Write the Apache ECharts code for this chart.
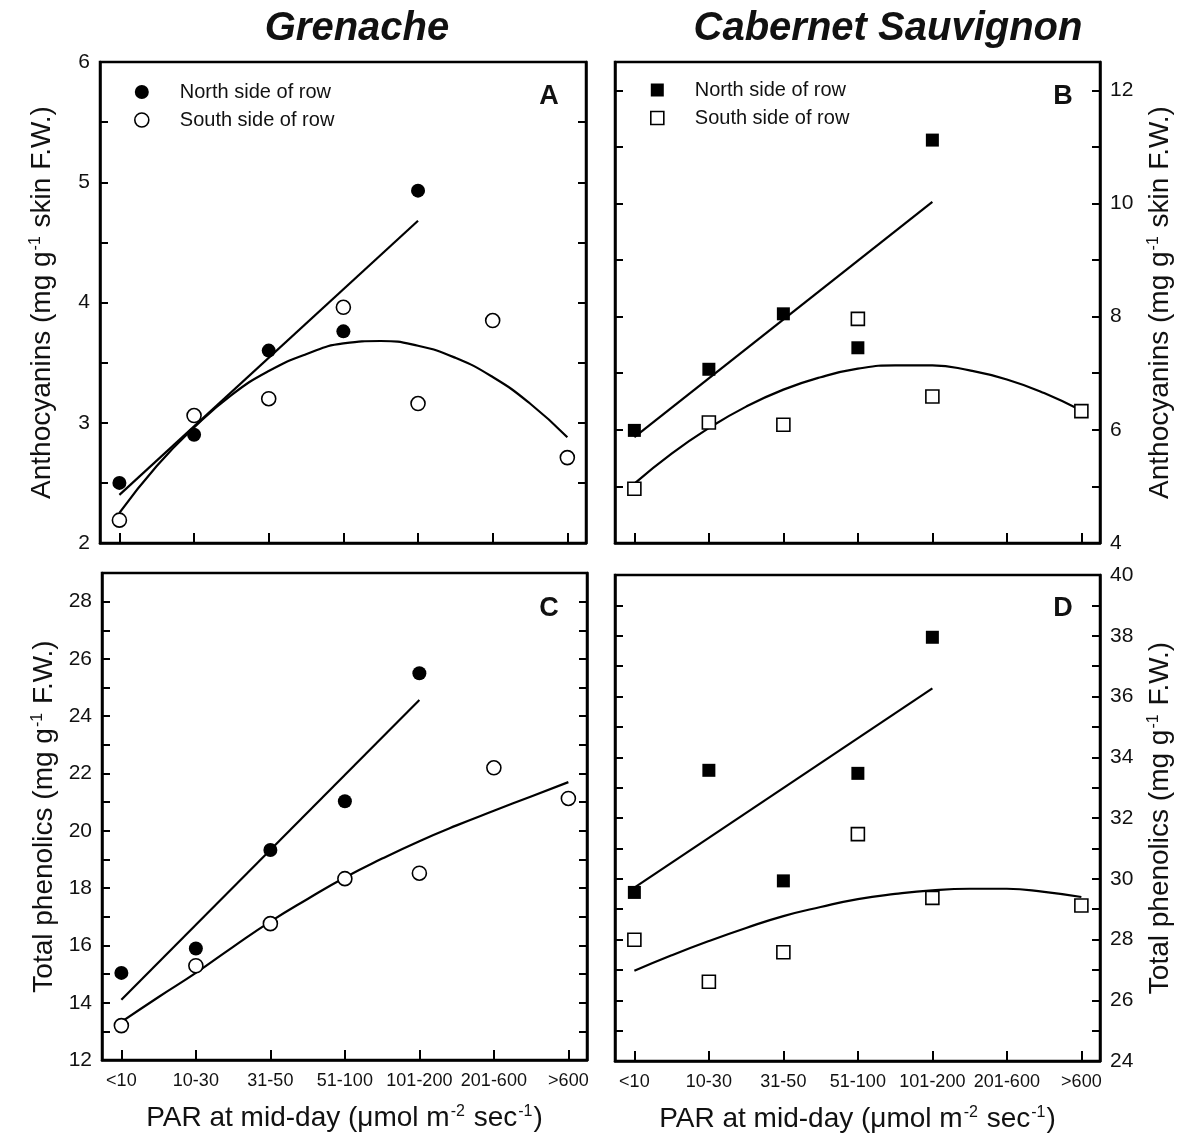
<!DOCTYPE html>
<html>
<head>
<meta charset="utf-8">
<script src="https://cdn.jsdelivr.net/npm/echarts@6/dist/echarts.min.js"></script>
<style>
  html, body { margin: 0; padding: 0; background: #fff; }
  #chart { width: 1203px; height: 1145px; }
</style>
</head>
<body>
<div id="chart"></div>
<script>
// PAR classes on the x axis
var cats = ['<10', '10-30', '31-50', '51-100', '101-200', '201-600', '>600'];
var curveX = [0, 0.5, 1, 1.5, 2, 2.5, 3, 3.5, 4, 4.5, 5, 5.5, 6];
var lineX = [0, 4];

// A - Grenache anthocyanins
var aNorth = [2.50, 2.90, 3.60, 3.76, 4.93, null, null];
var aSouth = [2.19, 3.06, 3.20, 3.96, 3.16, 3.85, 2.71];
var aNorthFit = [2.40, 4.68];
var aSouthFit = [2.25, 2.64, 2.96, 3.23, 3.43, 3.57, 3.66, 3.68, 3.64, 3.54, 3.38, 3.16, 2.88];

// B - Cabernet Sauvignon anthocyanins
var bNorth = [5.99, 7.07, 8.05, 7.45, 11.12, null, null];
var bSouth = [4.96, 6.13, 6.09, 7.96, 6.59, null, 6.33];
var bNorthFit = [5.87, 10.03];
var bSouthFit = [5.05, 5.58, 6.03, 6.41, 6.71, 6.93, 7.08, 7.14, 7.14, 7.05, 6.89, 6.65, 6.34];

// C - Grenache total phenolics
var cNorth = [15.04, 15.89, 19.33, 21.03, 25.50, null, null];
var cSouth = [13.20, 15.29, 16.76, 18.33, 18.52, 22.20, 21.13];
var cNorthFit = [14.10, 24.57];
var cSouthFit = [13.33, 14.20, 15.04, 15.95, 16.83, 17.62, 18.37, 19.03, 19.64, 20.19, 20.70, 21.20, 21.70];

// D - Cabernet Sauvignon total phenolics
var dNorth = [29.55, 33.57, 29.93, 33.47, 37.95, null, null];
var dSouth = [27.99, 26.61, 27.58, 31.47, 29.37, null, 29.12];
var dNorthFit = [29.71, 36.27];
var dSouthFit = [26.97, 27.48, 27.95, 28.38, 28.77, 29.07, 29.33, 29.50, 29.62, 29.67, 29.67, 29.57, 29.40];

var FONT = '"Liberation Sans", Arial, Helvetica, sans-serif';
var INK = '#111';
var catIdx = cats.map(function (c, i) { return i; });

function pts(vals, xs) {
    return vals.map(function (v, i) { return v == null ? null : [xs ? xs[i] : i, v]; })
               .filter(function (p) { return p; });
}

var supRich = {
    sup: { fontSize: 16, fontFamily: FONT, color: INK, verticalAlign: 'top', padding: [0, 1, 0, 1] }
};

function xAxis(grid, withLabels) {
    return {
        type: 'value', gridIndex: grid, min: -0.26, max: 6.25,
        splitLine: { show: false },
        axisLine: { show: true, lineStyle: { color: '#000', width: 2.5 } },
        axisTick: { show: true, inside: true, length: 10, customValues: catIdx, lineStyle: { color: '#000', width: 2 } },
        axisLabel: {
            show: withLabels, customValues: catIdx, margin: 12,
            fontSize: 18, fontFamily: FONT, color: INK,
            formatter: function (v) { return cats[Math.round(v)]; }
        },
        name: withLabels ? 'PAR at mid-day (μmol m{sup|-2} sec{sup|-1})' : '',
        nameLocation: 'middle', nameGap: 44,
        nameTextStyle: { fontSize: 28, fontFamily: FONT, color: INK, rich: supRich }
    };
}

function yAxis(grid, pos, min, max, step, labelEvery, name, nameGap) {
    var labelled = !!name;
    return {
        type: 'value', gridIndex: grid, position: pos, min: min, max: max, interval: step,
        splitLine: { show: false },
        axisLine: { show: true, onZero: false, lineStyle: { color: '#000', width: 2.5 } },
        axisTick: { show: true, inside: true, length: 8, lineStyle: { color: '#000', width: 2 } },
        axisLabel: {
            show: labelled, margin: 10, fontSize: 21, fontFamily: FONT, color: INK,
            formatter: function (v) {
                var r = Math.round(v / labelEvery) * labelEvery;
                return Math.abs(r - v) < 1e-6 ? String(r) : '';
            }
        },
        name: name || '', nameLocation: 'middle', nameRotate: 90, nameGap: nameGap || 0,
        nameTextStyle: { fontSize: 28, fontFamily: FONT, color: INK, rich: supRich }
    };
}

function scatter(name, vals, xi, yi, symbol, filled) {
    return {
        name: name, type: 'scatter', xAxisIndex: xi, yAxisIndex: yi, z: 5,
        symbol: symbol, symbolSize: symbol === 'circle' ? 14 : 13,
        itemStyle: { color: filled ? '#000' : '#fff', borderColor: '#000', borderWidth: filled ? 0 : 1.6, opacity: 1 },
        data: pts(vals)
    };
}

function fit(vals, xs, xi, yi, smooth) {
    return {
        type: 'line', xAxisIndex: xi, yAxisIndex: yi, z: 3, smooth: smooth,
        showSymbol: false, symbol: 'none', silent: true,
        lineStyle: { color: '#000', width: 2.2 },
        data: pts(vals, xs)
    };
}

function legend(left, top, icon, size) {
    return {
        left: left, top: top, orient: 'vertical', padding: 0, selectedMode: false,
        itemWidth: size, itemHeight: size, itemGap: 8,
        textStyle: { fontSize: 20, fontFamily: FONT, color: INK, padding: [0, 0, 0, 26] },
        data: [
            { name: 'North side of row', icon: icon, itemStyle: { color: '#000', borderColor: '#000', borderWidth: 0 } },
            { name: 'South side of row', icon: icon, itemStyle: { color: '#fff', borderColor: '#000', borderWidth: 1.6 } }
        ]
    };
}

function letter(text, x, y) {
    return { text: text, left: x, top: y, textAlign: 'center', padding: 0,
             textStyle: { fontSize: 27, fontWeight: 'bold', fontFamily: FONT, color: INK } };
}

var gridStyle = { show: true, borderColor: '#000', borderWidth: 2.5, backgroundColor: 'transparent' };

var option = {
    animation: false,
    backgroundColor: '#fff',
    title: [
        { text: 'Grenache', left: 357, top: 9, textAlign: 'center', padding: 0,
          textStyle: { fontSize: 40, fontWeight: 'bold', fontStyle: 'italic', fontFamily: FONT, color: INK } },
        { text: 'Cabernet Sauvignon', left: 888, top: 9, textAlign: 'center', padding: 0,
          textStyle: { fontSize: 40, fontWeight: 'bold', fontStyle: 'italic', fontFamily: FONT, color: INK } },
        letter('A', 549, 83),
        letter('B', 1063, 83),
        letter('C', 549, 595),
        letter('D', 1063, 595)
    ],
    legend: [
        legend(134, 82, 'circle', 14),
        legend(650, 80, 'rect', 13)
    ],
    grid: [
        Object.assign({ left: 100, top: 62, width: 486, height: 481 }, gridStyle),
        Object.assign({ left: 615, top: 62, width: 485, height: 481 }, gridStyle),
        Object.assign({ left: 102, top: 573, width: 485, height: 487 }, gridStyle),
        Object.assign({ left: 615, top: 575, width: 485, height: 486 }, gridStyle)
    ],
    xAxis: [xAxis(0, false), xAxis(1, false), xAxis(2, true), xAxis(3, true)],
    yAxis: [
        yAxis(0, 'left', 2, 6, 0.5, 1, 'Anthocyanins (mg g{sup|-1} skin F.W.)', 44),
        yAxis(0, 'right', 2, 6, 0.5, 1),
        yAxis(1, 'left', 4, 12.5, 1, 2),
        yAxis(1, 'right', 4, 12.5, 1, 2, 'Anthocyanins (mg g{sup|-1} skin F.W.)', 46),
        yAxis(2, 'left', 12, 29, 1, 2, 'Total phenolics (mg g{sup|-1} F.W.)', 44),
        yAxis(2, 'right', 12, 29, 1, 2),
        yAxis(3, 'left', 24, 40, 1, 2),
        yAxis(3, 'right', 24, 40, 1, 2, 'Total phenolics (mg g{sup|-1} F.W.)', 46)
    ],
    series: [
        fit(aNorthFit, lineX, 0, 0, false),
        fit(aSouthFit, curveX, 0, 0, true),
        scatter('North side of row', aNorth, 0, 0, 'circle', true),
        scatter('South side of row', aSouth, 0, 0, 'circle', false),

        fit(bNorthFit, lineX, 1, 3, false),
        fit(bSouthFit, curveX, 1, 3, true),
        scatter('North side of row', bNorth, 1, 3, 'rect', true),
        scatter('South side of row', bSouth, 1, 3, 'rect', false),

        fit(cNorthFit, lineX, 2, 4, false),
        fit(cSouthFit, curveX, 2, 4, true),
        scatter('North side of row', cNorth, 2, 4, 'circle', true),
        scatter('South side of row', cSouth, 2, 4, 'circle', false),

        fit(dNorthFit, lineX, 3, 7, false),
        fit(dSouthFit, curveX, 3, 7, true),
        scatter('North side of row', dNorth, 3, 7, 'rect', true),
        scatter('South side of row', dSouth, 3, 7, 'rect', false)
    ]
};

var myChart = echarts.init(document.getElementById('chart'), null, { renderer: 'canvas' });
myChart.setOption(option);
</script>
</body>
</html>
